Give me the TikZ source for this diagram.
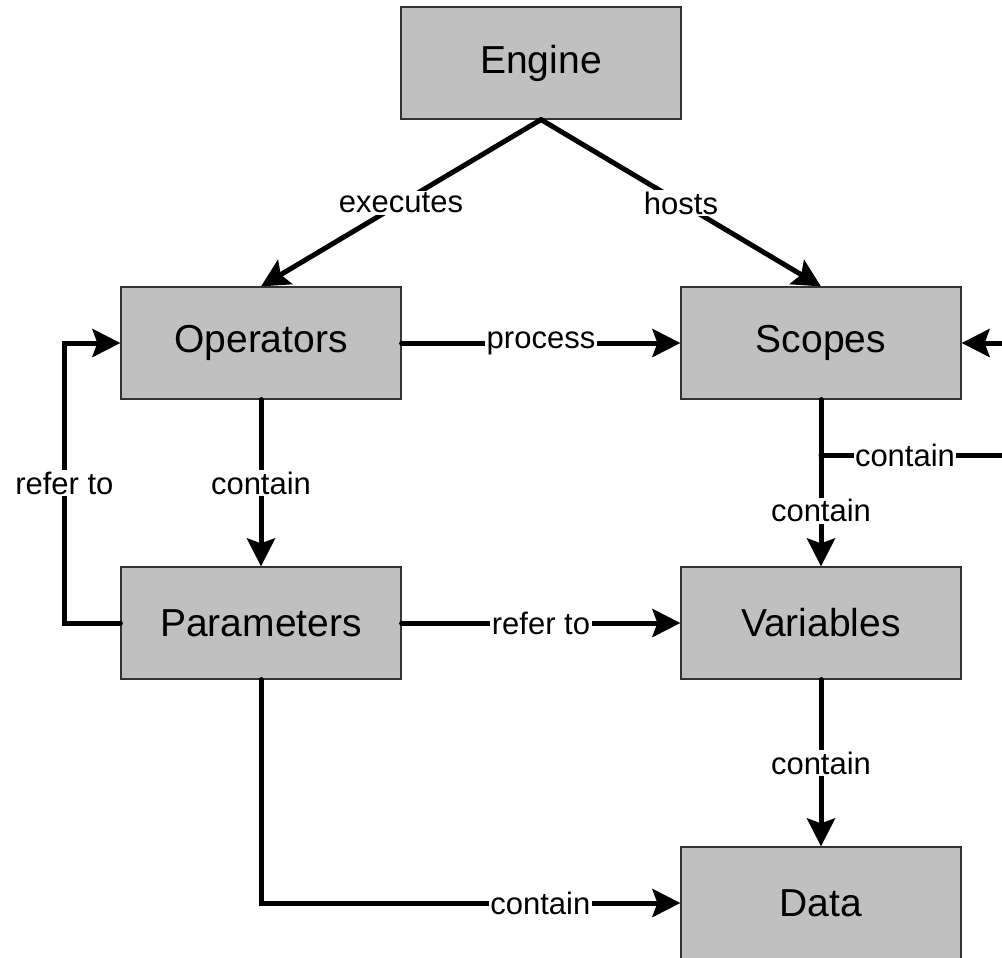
\documentclass[tikz,border=0pt]{standalone}
\usepackage{fontspec}
\setmainfont{Liberation Sans}
\usetikzlibrary{arrows.meta}
\definecolor{boxgray}{HTML}{C0C0C0}
\begin{document}
\begin{tikzpicture}[x=1pt,y=-1pt,
  box/.style={draw=black!80, line width=1.2pt, fill=boxgray, minimum width=280pt, minimum height=112pt, inner sep=0pt, font=\fontsize{39}{44}\selectfont},
  conn/.style={line width=5pt, line cap=round, -{Stealth[length=28pt,width=28pt,inset=5pt]}},
  lbl/.style={fill=white, inner sep=1.5pt, font=\fontsize{31}{36}\selectfont}]
\useasboundingbox (0,0) rectangle (1002,958);
\clip (0,0) rectangle (1002,958);
\node[box] (eng) at (541,63) {Engine};
\node[box] (ops) at (261,343) {Operators};
\node[box] (sco) at (821,343) {Scopes};
\node[box] (par) at (261,623) {Parameters};
\node[box] (var) at (821,623) {Variables};
\node[box] (dat) at (821,903) {Data};
\coordinate (br) at (821,455);
\coordinate (lr1) at (1020,455);
\coordinate (lr2) at (1020,343);
\draw[conn] (eng.south) -- node[lbl]{executes} (ops.north);
\draw[conn] (eng.south) -- node[lbl]{hosts} (sco.north);
\draw[conn] (ops.east) -- node[lbl]{process} (sco.west);
\draw[conn] (ops.south) -- node[lbl]{contain} (par.north);
\draw[conn] (par.west) -- ++(-56,0) |- node[lbl,pos=0.25]{refer to} (ops.west);
\draw[conn] (par.east) -- node[lbl]{refer to} (var.west);
\draw[conn] (sco.south) -- (br) -- node[lbl]{contain} (var.north);
\draw[conn] (br) -- node[lbl,pos=0.422]{contain} (lr1) -- (lr2) -- (sco.east);
\draw[conn] (var.south) -- node[lbl]{contain} (dat.north);
\draw[conn] (par.south) |- node[lbl,pos=0.833]{contain} (dat.west);
\end{tikzpicture}
\end{document}
